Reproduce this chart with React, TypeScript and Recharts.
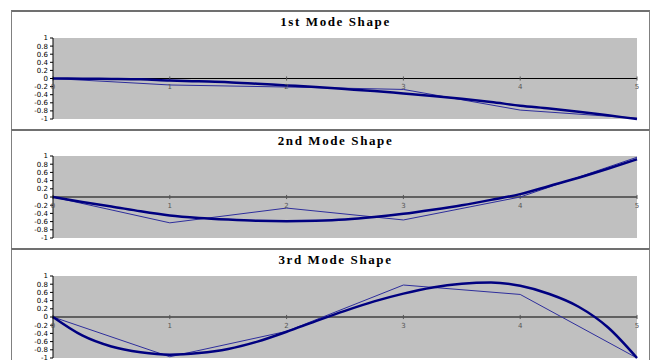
import React from 'react';
import { LineChart, Line, XAxis, YAxis, ReferenceArea, ReferenceLine, ReferenceDot } from 'recharts';

// positions along the beam (thin = coarse model nodes, thick = exact shape samples)
const nodeX = [0, 1, 2, 3, 4, 5];
const fineX = [0, 0.25, 0.5, 0.75, 1, 1.25, 1.5, 1.75, 2, 2.25, 2.5, 2.75, 3, 3.25, 3.5, 3.75, 4, 4.25, 4.5, 4.75, 5];

const mode1Exact = [0, -0.005, -0.01, -0.02, -0.05, -0.07, -0.09, -0.13, -0.17, -0.21, -0.26, -0.31, -0.37, -0.43, -0.5, -0.58, -0.67, -0.74, -0.82, -0.91, -1];
const mode1Approx = [0, -0.16, -0.21, -0.27, -0.78, -0.98];

const mode2Exact = [0, -0.12, -0.23, -0.35, -0.45, -0.51, -0.55, -0.58, -0.59, -0.58, -0.55, -0.49, -0.41, -0.31, -0.2, -0.07, 0.07, 0.27, 0.47, 0.69, 0.92];
const mode2Approx = [0, -0.63, -0.27, -0.56, 0.0, 0.97];

const mode3Exact = [0, -0.45, -0.72, -0.86, -0.92, -0.88, -0.78, -0.6, -0.36, -0.1, 0.15, 0.38, 0.57, 0.72, 0.81, 0.84, 0.76, 0.56, 0.25, -0.25, -1];
const mode3Approx = [0, -0.97, -0.35, 0.78, 0.55, -1.0];

const yTicks = [1, 0.8, 0.6, 0.4, 0.2, 0, -0.2, -0.4, -0.6, -0.8, -1];
const xTicks = [0, 1, 2, 3, 4, 5];

const panels = [
  { title: '1st Mode Shape', exact: mode1Exact, approx: mode1Approx, top: 10, height: 119, marginTop: 30 },
  { title: '2nd Mode Shape', exact: mode2Exact, approx: mode2Approx, top: 129, height: 119, marginTop: 29 },
  { title: '3rd Mode Shape', exact: mode3Exact, approx: mode3Approx, top: 248, height: 120, marginTop: 30 },
];

const toPoints = (xs: number[], ys: number[]) => xs.map((x, i) => ({ x, y: ys[i] }));

function ModePanel({ title, exact, approx, top, height, marginTop }: any) {
  return (
    <div
      style={{
        position: 'absolute',
        left: 11,
        top,
        width: 639,
        height,
        boxSizing: 'border-box',
        borderLeft: '1px solid #808080',
        borderRight: '1px solid #808080',
        borderTop: '2px solid #707070',
        background: '#fff',
      }}
    >
      <div
        style={{
          position: 'absolute',
          left: 4,
          width: 639,
          top: 2,
          textAlign: 'center',
          fontFamily: '"Liberation Serif", serif',
          fontWeight: 'bold',
          fontSize: 13,
          letterSpacing: 1.6,
        }}
      >
        {title}
      </div>
      <LineChart width={639} height={height} margin={{ top: marginTop - 2, right: 13, left: 0, bottom: 10 }} style={{ position: 'absolute', left: -1, top: -2 }}>
        <XAxis type="number" dataKey="x" domain={[0, 5]} ticks={xTicks} hide />
        <YAxis
          type="number"
          domain={[-1, 1]}
          ticks={yTicks}
          width={42}
          interval={0}
          axisLine={{ stroke: '#000' }}
          tickLine={{ stroke: '#000' }}
          tickSize={3}
          tick={{ fontSize: 7, fill: '#000', fontFamily: '"DejaVu Sans", sans-serif' }}
        />
        <ReferenceArea x1={0} x2={5} y1={-1} y2={1} fill="#c0c0c0" fillOpacity={1} stroke="none" />
        <ReferenceLine y={0} stroke="#000" strokeWidth={1} />
        {xTicks.map(t => (
          <ReferenceLine key={'t' + t} segment={[{ x: t, y: -0.05 }, { x: t, y: 0.05 }]} stroke="#555" strokeWidth={1} />
        ))}
        {xTicks.map(t => (
          <ReferenceDot
            key={'l' + t}
            x={t}
            y={0}
            r={0}
            stroke="none"
            fill="none"
            label={{ value: String(t), position: 'bottom', offset: 6, fontSize: 7, fill: '#555', fontFamily: '"DejaVu Sans", sans-serif' }}
          />
        ))}
        <Line
          data={toPoints(nodeX, approx)}
          dataKey="y"
          type="linear"
          stroke="#2e2e9c"
          strokeWidth={1}
          dot={false}
          isAnimationActive={false}
        />
        <Line
          data={toPoints(fineX, exact)}
          dataKey="y"
          type="monotone"
          stroke="#000080"
          strokeWidth={2.5}
          dot={false}
          isAnimationActive={false}
        />
      </LineChart>
    </div>
  );
}

export default function App() {
  return (
    <div style={{ position: 'absolute', left: 0, top: 0, width: 656, height: 360, overflow: 'hidden', background: '#fff' }}>
      {panels.map(p => (
        <ModePanel key={p.title} {...p} />
      ))}
    </div>
  );
}
